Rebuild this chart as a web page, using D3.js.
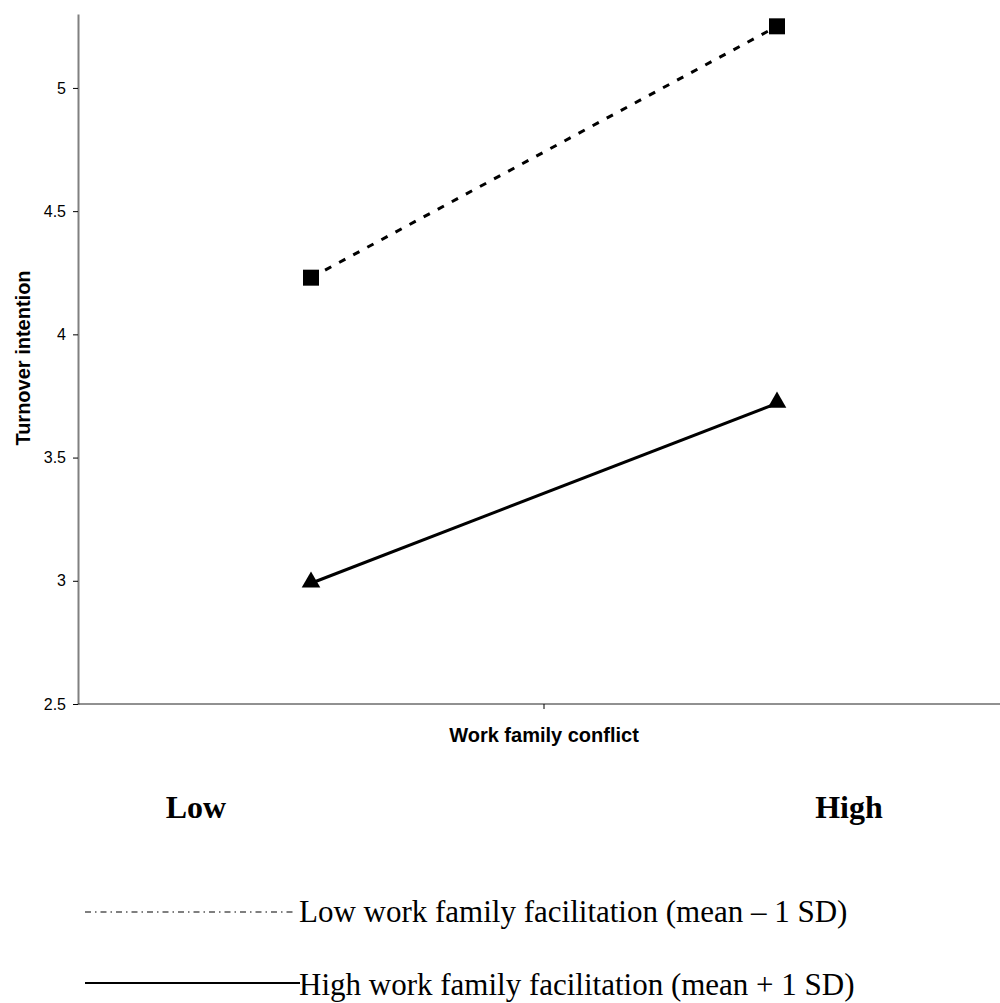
<!DOCTYPE html>
<html>
<head>
<meta charset="utf-8">
<script src="https://cdn.jsdelivr.net/npm/d3@7"></script>
<style>
    body { margin: 0; background: #fff; }
    svg { display: block; }
</style>
</head>
<body>
<div class="chart"></div>
<script>
// data
const categories = ['Low', 'High'];
const lowFacilitation = [4.23, 5.25];
const highFacilitation = [2.99, 3.72];
const yTicks = [2.5, 3, 3.5, 4, 4.5, 5];
const legendLabels = [
    'Low work family facilitation (mean \u2013 1 SD)',
    'High work family facilitation (mean + 1 SD)'
];

const svg_width = 1000;
const svg_height = 1003;
const plot = { left: 78, right: 1010, top: 14, bottom: 704 };

const svg = d3.select('.chart')
    .append('svg')
    .attr('width', svg_width)
    .attr('height', svg_height);

const xScale = d3.scaleBand()
    .domain(categories)
    .range([plot.left, plot.right]);
const yScale = d3.scaleLinear([2.5, 5.3], [plot.bottom, plot.top]);

// y axis
const yAxis = d3.axisLeft(yScale)
    .tickValues(yTicks)
    .tickFormat(d3.format('~g'))
    .tickSizeInner(5)
    .tickSizeOuter(0);
const yAxisDraw = svg.append('g')
    .attr('transform', `translate(${plot.left},0)`)
    .call(yAxis);
yAxisDraw.select('.domain').attr('stroke', '#808080').attr('stroke-width', 2);
yAxisDraw.selectAll('line').attr('stroke', '#000');
yAxisDraw.selectAll('text')
    .attr('font-family', 'Liberation Sans, Arial, sans-serif')
    .attr('font-size', 16)
    .attr('fill', '#000')
    .attr('x', -12);

// x axis, only the centre divider tick
svg.append('line')
    .attr('x1', plot.left).attr('x2', plot.right)
    .attr('y1', plot.bottom).attr('y2', plot.bottom)
    .attr('stroke', '#222').attr('stroke-width', 1);
svg.append('line')
    .attr('x1', xScale('High')).attr('x2', xScale('High'))
    .attr('y1', plot.bottom).attr('y2', plot.bottom + 5)
    .attr('stroke', '#000');

svg.append('text')
    .attr('x', xScale('High'))
    .attr('y', 742)
    .attr('text-anchor', 'middle')
    .attr('font-family', 'Liberation Sans, Arial, sans-serif')
    .attr('font-weight', 'bold')
    .attr('font-size', 20)
    .text('Work family conflict');

svg.append('text')
    .attr('transform', 'translate(30,358) rotate(-90)')
    .attr('text-anchor', 'middle')
    .attr('font-family', 'Liberation Sans, Arial, sans-serif')
    .attr('font-weight', 'bold')
    .attr('font-size', 20)
    .text('Turnover intention');

// series
const cx = d => xScale(d) + xScale.bandwidth() / 2;
const line = d3.line()
    .x((d, i) => cx(categories[i]))
    .y(d => yScale(d));

svg.append('path')
    .datum(lowFacilitation)
    .attr('d', line)
    .attr('fill', 'none')
    .attr('stroke', '#000')
    .attr('stroke-width', 3)
    .attr('stroke-dasharray', '7,9');

svg.append('path')
    .datum(highFacilitation)
    .attr('d', line)
    .attr('fill', 'none')
    .attr('stroke', '#000')
    .attr('stroke-width', 3);

svg.selectAll('.sq')
    .data(lowFacilitation)
    .enter()
    .append('path')
    .attr('class', 'sq')
    .attr('d', d3.symbol(d3.symbolSquare, 256))
    .attr('transform', (d, i) => `translate(${cx(categories[i])},${yScale(d)})`)
    .attr('fill', '#000');

svg.selectAll('.tri')
    .data(highFacilitation)
    .enter()
    .append('path')
    .attr('class', 'tri')
    .attr('d', d3.symbol(d3.symbolTriangle, 150))
    .attr('transform', (d, i) => `translate(${cx(categories[i])},${yScale(d) - 1})`)
    .attr('fill', '#000');

// category labels under the chart
svg.selectAll('.cat')
    .data(categories)
    .enter()
    .append('text')
    .attr('class', 'cat')
    .attr('x', d => cx(d) - (d === 'Low' ? 115 : -72))
    .attr('y', 818)
    .attr('text-anchor', 'middle')
    .attr('font-family', 'Liberation Serif, Times New Roman, serif')
    .attr('font-weight', 'bold')
    .attr('font-size', 32)
    .text(d => d);

// legend
const legend = svg.append('g');
const legendY = [912, 983];
legend.append('line')
    .attr('x1', 85).attr('x2', 296)
    .attr('y1', legendY[0]).attr('y2', legendY[0])
    .attr('stroke', '#000').attr('stroke-width', 1.2)
    .attr('stroke-dasharray', '6,4,1.5,4');
legend.append('line')
    .attr('x1', 85).attr('x2', 300)
    .attr('y1', legendY[1]).attr('y2', legendY[1])
    .attr('stroke', '#000').attr('stroke-width', 2);
legend.selectAll('text')
    .data(legendLabels)
    .enter()
    .append('text')
    .attr('x', 299)
    .attr('y', (d, i) => legendY[i] + 10 + i * 2)
    .attr('font-family', 'Liberation Serif, Times New Roman, serif')
    .attr('font-size', 31)
    .text(d => d);
</script>
</body>
</html>
